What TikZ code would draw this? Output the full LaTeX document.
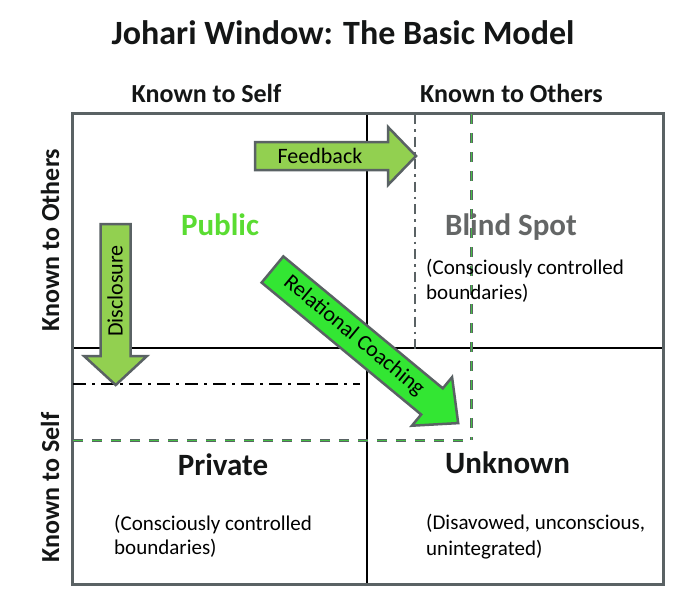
\documentclass[tikz,border=0pt]{standalone}
\usepackage{fontspec}
\setmainfont{Carlito}
\definecolor{boxgray}{RGB}{90,98,100}
\definecolor{lightgreen}{RGB}{146,208,80}
\definecolor{brightgreen}{RGB}{51,230,51}
\definecolor{publicgreen}{RGB}{90,220,50}
\definecolor{blindgray}{RGB}{100,102,102}
\definecolor{darktext}{RGB}{20,22,22}
\definecolor{dashgreen}{RGB}{70,190,70}
\begin{document}
\begin{tikzpicture}[x=1pt,y=-1pt,
  boxline/.style={draw=boxgray,line width=3pt},
  divline/.style={draw=black,line width=1.5pt},
  arrowshape/.style={draw=boxgray,line width=2.5pt,line join=miter},
  lbl/.style={inner sep=0pt,anchor=base,text=darktext},
  linetext/.style={inner sep=0pt,anchor=base west,text=black,font=\fontsize{21}{25}\selectfont},
  headfont/.style={font=\bfseries\fontsize{26}{30}\selectfont},
  quadfont/.style={font=\bfseries\fontsize{31}{36}\selectfont},
  arrowtext/.style={inner sep=0pt,text=black,font=\fontsize{22}{26}\selectfont},
  graydash/.style={draw=boxgray,line width=3pt,dash pattern=on 10pt off 9pt},
  greendash/.style={draw=dashgreen,line width=0.5pt,dash pattern=on 10pt off 9pt},
  graydashdot/.style={draw=boxgray,line width=2.5pt,dash pattern=on 10pt off 5pt on 2.5pt off 5pt},
  blackdashdot/.style={draw=black,line width=2.5pt,dash pattern=on 13pt off 6pt on 3pt off 6pt}]
\useasboundingbox (0,0) rectangle (696,602);
\fill[white] (0,0) rectangle (696,602);

% window frame
\draw[divline] (367,113) -- (367,584);
\draw[divline] (72,348) -- (663,348);
\draw[boxline] (72,113) rectangle (663,584);

% boundary lines
\draw[graydashdot] (415,114) -- (415,352);
\draw[graydash] (471,114) -- (471,440);
\draw[greendash] (471,114) -- (471,440);
\draw[graydash] (73,440) -- (471,440);
\draw[greendash] (73,440) -- (471,440);
\draw[blackdashdot] (73,384) -- (360,384);

% arrows
\draw[arrowshape,fill=lightgreen] (255,142) -- (388,142) -- (388,127) -- (416,156) -- (388,185) -- (388,170) -- (255,170) -- cycle;
\draw[arrowshape,fill=lightgreen] (100.7,224) -- (130.7,224) -- (130.7,356) -- (147,356) -- (115.7,385) -- (84,356) -- (100.7,356) -- cycle;
\begin{scope}[shift={(272.5,269.5)},rotate=-39.6]
\draw[arrowshape,fill=brightgreen] (0,-17) -- (207,-17) -- (207,-31.5) -- (241,0) -- (207,31.5) -- (207,17) -- (0,17) -- cycle;
\end{scope}

\node[arrowtext] (feedback) at (320,156) {Feedback};
\node[arrowtext,rotate=90] (disclosure) at (115,291) {Disclosure};
\node[arrowtext,rotate=-39.6] (coaching) at (354,336) {Relational Coaching};

% titles
\node[lbl,font=\bfseries\fontsize{34}{40}\selectfont] (title) at (343,45) {Johari Window: The Basic Model};
\node[lbl,headfont] (topself) at (206.5,102) {Known to Self};
\node[lbl,headfont] (topothers) at (511.5,102) {Known to Others};
\node[lbl,headfont,rotate=90] (leftothers) at (59,240) {Known to Others};
\node[lbl,headfont,rotate=90] (leftself) at (59,487.5) {Known to Self};

% quadrant names
\node[lbl,quadfont,text=publicgreen] (public) at (220,235) {Public};
\node[lbl,quadfont,text=blindgray] (blind) at (511,235) {Blind Spot};
\node[lbl,quadfont] (private) at (223,475) {Private};
\node[lbl,quadfont] (unknown) at (507.5,473) {Unknown};

% descriptions
\node[linetext] (blindA) at (426,274) {(Consciously controlled};
\node[linetext] (blindB) at (426,299) {boundaries)};
\node[linetext] (privA) at (114,530) {(Consciously controlled};
\node[linetext] (privB) at (114,554) {boundaries)};
\node[linetext] (unkA) at (426,529) {(Disavowed, unconscious,};
\node[linetext] (unkB) at (426,555) {unintegrated)};
\end{tikzpicture}
\end{document}
